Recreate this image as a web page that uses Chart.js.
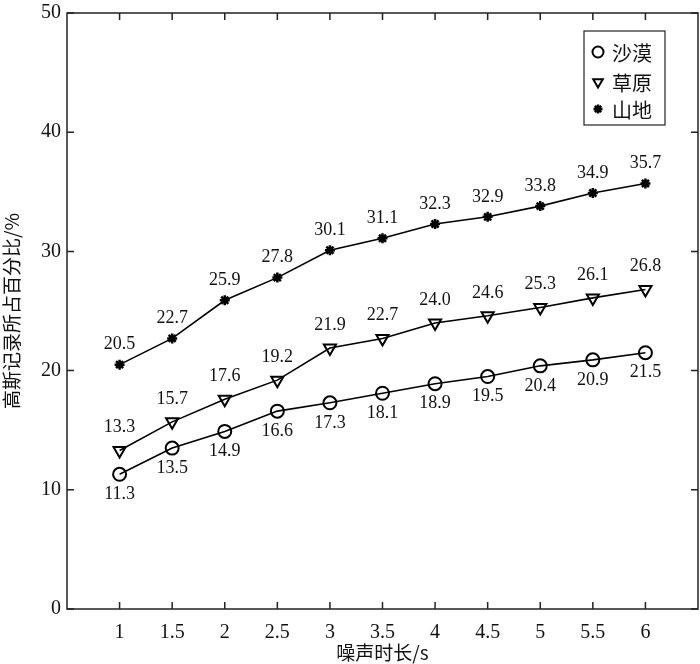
<!DOCTYPE html>
<html>
<head>
<meta charset="utf-8">
<script src="https://cdn.jsdelivr.net/npm/chart.js@4/dist/chart.umd.min.js"></script>
<style>
  html, body { margin: 0; padding: 0; background: #fff; overflow: hidden; }
  #wrap { width: 700px; height: 664px; }
  #noiseChart { display: block; }
</style>
</head>
<body>
<div id="wrap"><canvas id="noiseChart" width="700" height="664"></canvas></div>
<script>
// 噪声时长 (s)
const durations = [1, 1.5, 2, 2.5, 3, 3.5, 4, 4.5, 5, 5.5, 6];
const seriesNames = ['沙漠', '草原', '山地'];
const desert = [11.3, 13.5, 14.9, 16.6, 17.3, 18.1, 18.9, 19.5, 20.4, 20.9, 21.5];
const grassland = [13.3, 15.7, 17.6, 19.2, 21.9, 22.7, 24.0, 24.6, 25.3, 26.1, 26.8];
const mountain = [20.5, 22.7, 25.9, 27.8, 30.1, 31.1, 32.3, 32.9, 33.8, 34.9, 35.7];
const xTicks = [1, 1.5, 2, 2.5, 3, 3.5, 4, 4.5, 5, 5.5, 6];
const yTicks = [0, 10, 20, 30, 40, 50];

const serif = '"Liberation Serif", "Times New Roman", serif';
const cjk = '"Noto Sans CJK SC", sans-serif';

function pts(vals) {
    return durations.map((d, i) => ({ x: d, y: vals[i] }));
}

// 标签偏移: 沙漠在下方, 其余在上方
const labelOffset = [20, -23, -20];

const frame = {
    id: 'frame',
    afterDraw(chart) {
        const ctx = chart.ctx;
        const a = chart.chartArea;
        const xs = chart.scales.x, ys = chart.scales.y;
        ctx.save();
        ctx.strokeStyle = '#222';
        ctx.lineWidth = 1.5;
        ctx.strokeRect(a.left, a.top, a.right - a.left, a.bottom - a.top);

        // 向内的刻度
        ctx.beginPath();
        xTicks.forEach(v => {
            const px = xs.getPixelForValue(v);
            ctx.moveTo(px, a.bottom); ctx.lineTo(px, a.bottom - 7);
            ctx.moveTo(px, a.top); ctx.lineTo(px, a.top + 7);
        });
        yTicks.forEach(v => {
            const py = ys.getPixelForValue(v);
            ctx.moveTo(a.left, py); ctx.lineTo(a.left + 7, py);
            ctx.moveTo(a.right, py); ctx.lineTo(a.right - 7, py);
        });
        ctx.stroke();

        // 数据标签
        ctx.fillStyle = '#111';
        ctx.font = '18px ' + serif;
        ctx.textAlign = 'center';
        ctx.textBaseline = 'middle';
        chart.data.datasets.forEach((ds, di) => {
            chart.getDatasetMeta(di).data.forEach((el, i) => {
                ctx.fillText(ds.data[i].y.toFixed(1), el.x, el.y + labelOffset[di]);
            });
        });

        // 图例
        const lx = 584, ly = 31, lw = 81, lh = 94;
        ctx.fillStyle = '#fff';
        ctx.fillRect(lx, ly, lw, lh);
        ctx.strokeStyle = '#222';
        ctx.lineWidth = 1.2;
        ctx.strokeRect(lx, ly, lw, lh);
        const rows = [52, 82, 109];
        ctx.font = '20px ' + cjk;
        ctx.textAlign = 'left';
        chart.data.datasets.forEach((ds, di) => {
            ctx.strokeStyle = '#000';
            ctx.fillStyle = ds.pointStyle === 'star' ? '#000' : 'rgba(0,0,0,0)';
            ctx.lineWidth = ds.pointBorderWidth;
            Chart.helpers.drawPoint(ctx, {
                pointStyle: ds.pointStyle,
                radius: ds.pointStyle === 'star' ? 4.5 : 5.5,
                rotation: ds.pointRotation || 0,
                borderWidth: ds.pointBorderWidth
            }, 598, rows[di]);
            ctx.fillStyle = '#111';
            ctx.fillText(ds.label, 612, rows[di] + 1);
        });
        ctx.restore();
    }
};

const common = {
    borderColor: '#000',
    borderWidth: 1.6,
    pointBorderColor: '#000',
    pointBackgroundColor: 'rgba(0,0,0,0)',
    pointHoverRadius: 6,
    tension: 0,
    fill: false
};

new Chart(document.getElementById('noiseChart').getContext('2d'), {
    type: 'line',
    data: {
        datasets: [
            Object.assign({}, common, { label: seriesNames[0], data: pts(desert), pointStyle: 'circle', pointRadius: 6.5, pointBorderWidth: 2 }),
            Object.assign({}, common, { label: seriesNames[1], data: pts(grassland), pointStyle: 'triangle', pointRotation: 180, pointRadius: 7, pointBorderWidth: 2 }),
            Object.assign({}, common, { label: seriesNames[2], data: pts(mountain), pointStyle: 'star', pointRadius: 5, pointBorderWidth: 2.5 })
        ]
    },
    options: {
        responsive: false,
        devicePixelRatio: 1,
        animation: false,
        layout: { autoPadding: false, padding: { top: 13, right: 2, left: 0, bottom: 0 } },
        plugins: { legend: { display: false }, tooltip: { enabled: false } },
        scales: {
            x: {
                type: 'linear',
                min: 0.5,
                max: 6.5,
                afterBuildTicks: s => { s.ticks = xTicks.map(v => ({ value: v })); },
                afterFit: s => { s.height = 55; s.paddingLeft = 0; s.paddingRight = 0; },
                grid: { display: false, drawTicks: false },
                border: { display: false },
                ticks: { color: '#111', font: { family: serif, size: 20 }, padding: 12, maxRotation: 0, callback: v => String(v) },
                title: { display: true, text: '噪声时长/s', color: '#111', font: { family: cjk, size: 19 }, padding: { top: 0, bottom: 0 } }
            },
            y: {
                min: 0,
                max: 50,
                afterBuildTicks: s => { s.ticks = yTicks.map(v => ({ value: v })); },
                afterFit: s => { s.width = 67; s.paddingTop = 0; s.paddingBottom = 0; },
                grid: { display: false, drawTicks: false },
                border: { display: false },
                ticks: { color: '#111', font: { family: serif, size: 20 }, padding: 6 },
                title: { display: true, text: '高斯记录所占百分比/%', color: '#111', font: { family: cjk, size: 19 }, padding: { top: 0, bottom: 4 } }
            }
        }
    },
    plugins: [frame]
});
</script>
</body>
</html>
